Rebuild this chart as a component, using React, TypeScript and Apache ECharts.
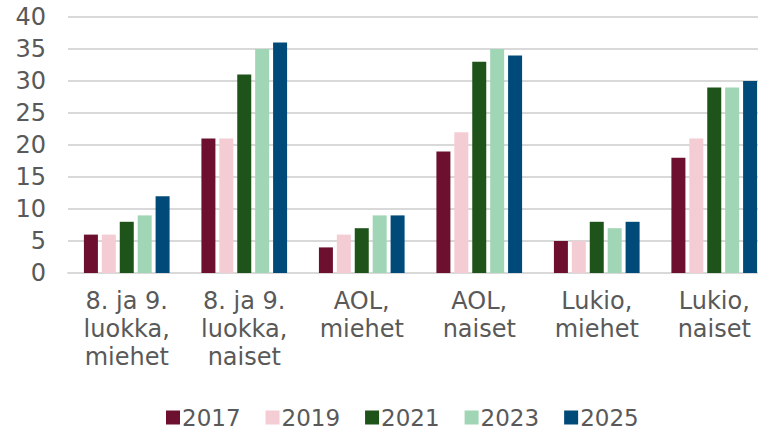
import React, { useEffect, useRef } from "react";
import * as echarts from "echarts";

const categories = [
  "8. ja 9.\nluokka,\nmiehet",
  "8. ja 9.\nluokka,\nnaiset",
  "AOL,\nmiehet",
  "AOL,\nnaiset",
  "Lukio,\nmiehet",
  "Lukio,\nnaiset",
];
const years = ["2017", "2019", "2021", "2023", "2025"];
const v2017 = [6, 21, 4, 19, 5, 18];
const v2019 = [6, 21, 6, 22, 5, 21];
const v2021 = [8, 31, 7, 33, 8, 29];
const v2023 = [9, 35, 9, 35, 7, 29];
const v2025 = [12, 36, 9, 34, 8, 30];
const colors = ["#6D1030", "#F4CCD4", "#1E5319", "#A0D5B5", "#004A7A"];

export default function App() {
  const ref = useRef<HTMLDivElement>(null);
  useEffect(() => {
    const chart = echarts.init(ref.current!, null, { renderer: "svg" });
    const values = [v2017, v2019, v2021, v2023, v2025];
    const font = "DejaVu Sans, Verdana, sans-serif";
    chart.setOption({
      animation: false,
      color: colors,
      textStyle: { fontFamily: font },
      legend: {
        data: years,
        top: 401,
        left: 161,
        itemWidth: 14,
        itemHeight: 14,
        itemGap: 25,
        icon: "rect",
        textStyle: { fontSize: 23, color: "#595959", fontFamily: font, fontWeight: "normal", padding: [0, 0, 0, -3] },
      },
      grid: { left: 68, top: 17, width: 705, height: 256, containLabel: false },
      xAxis: {
        type: "category",
        data: categories,
        axisTick: { show: false },
        axisLine: { lineStyle: { color: "#D9D9D9", width: 2 } },
        axisLabel: {
          interval: 0,
          fontSize: 24,
          lineHeight: 28,
          color: "#595959",
          margin: 14,
          fontFamily: font,
        },
      },
      yAxis: {
        type: "value",
        min: 0,
        max: 40,
        interval: 5,
        axisLine: { show: false },
        axisTick: { show: false },
        splitLine: { lineStyle: { color: "#D9D9D9", width: 2 } },
        axisLabel: { fontSize: 24, color: "#595959", margin: 22, fontFamily: font },
      },
      series: years.map((y, i) => ({
        name: y,
        type: "bar",
        data: values[i],
        barWidth: 14,
        barGap: "28%",
        itemStyle: { color: colors[i] },
      })),
    });
    return () => chart.dispose();
  }, []);
  return (
    <div style={{ position: "absolute", left: 0, top: 0, width: 758, height: 430, overflow: "hidden" }}>
      <div ref={ref} style={{ width: 780, height: 430 }} />
    </div>
  );
}
